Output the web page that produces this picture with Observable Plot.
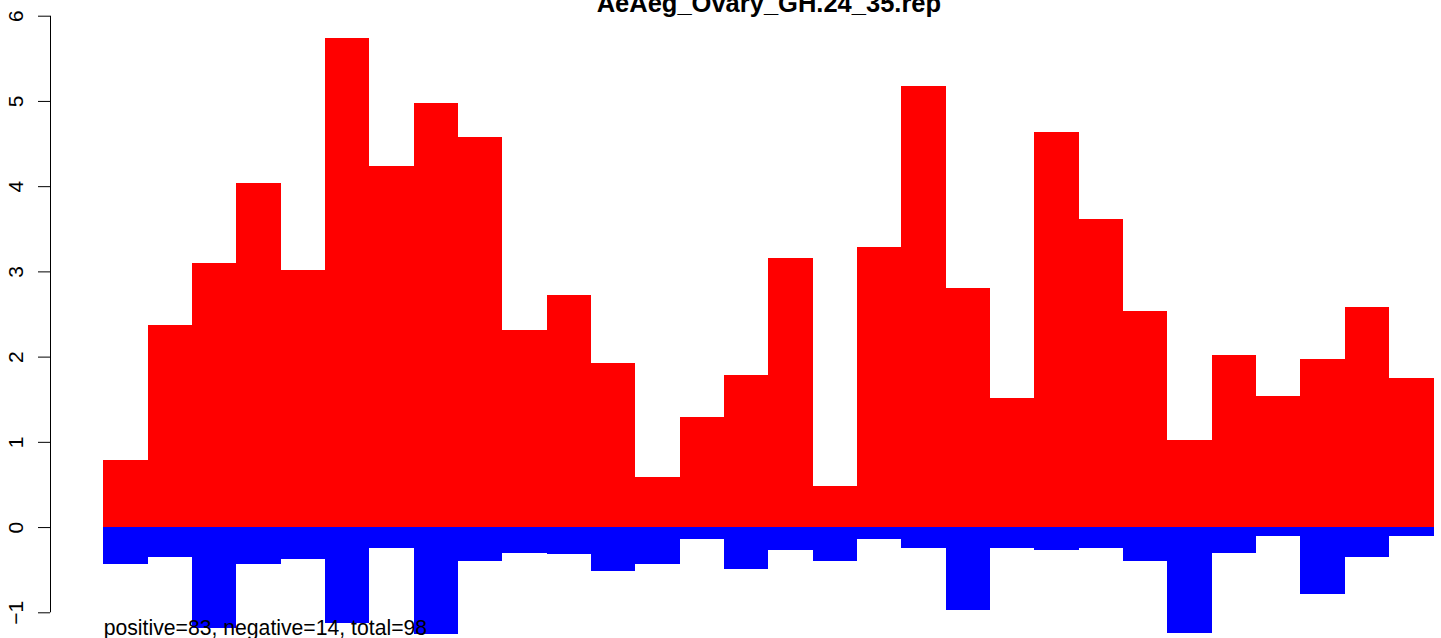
<!DOCTYPE html>
<html>
<head>
<meta charset="utf-8">
<script src="https://cdn.jsdelivr.net/npm/d3@7"></script>
<script src="https://cdn.jsdelivr.net/npm/@observablehq/plot@0.6"></script>
<style>
  html, body { margin: 0; padding: 0; background: #fff; overflow: hidden; }
  #chart svg { display: block; font-family: "Liberation Sans", Arial, Helvetica, sans-serif; }
</style>
</head>
<body>
<div id="chart"></div>
<script>
const title = "AeAeg_Ovary_GH.24_35.rep";
const summary = "positive=83, negative=14, total=98";
const bins = d3.range(1, 31);
const positive = [0.79, 2.37, 3.10, 4.04, 3.02, 5.74, 4.24, 4.97, 4.58, 2.31,
                  2.72, 1.92, 0.59, 1.29, 1.79, 3.16, 0.48, 3.29, 5.18, 2.81,
                  1.52, 4.64, 3.62, 2.54, 1.02, 2.02, 1.54, 1.97, 2.58, 1.75];
const negative = [-0.43, -0.35, -1.19, -0.43, -0.38, -1.13, -0.24, -1.26, -0.40, -0.30,
                  -0.32, -0.51, -0.43, -0.14, -0.49, -0.27, -0.40, -0.14, -0.24, -0.97,
                  -0.24, -0.27, -0.24, -0.40, -1.24, -0.30, -0.11, -0.78, -0.35, -0.11];
const yTicks = [-1, 0, 1, 2, 3, 4, 5, 6];

const n = bins.length;
const pad = 0.04 * n;
const unit = (1433 - 102.7) / n;
const left = 50;

const rows = bins.map((b, i) => ({bin: b, x1: i, x2: i + 1, pos: positive[i], neg: negative[i]}));

const plot = Plot.plot({
  width: 1441,
  height: 638,
  marginLeft: left,
  marginRight: 0,
  marginTop: 0,
  marginBottom: 0,
  style: {fontFamily: '"Liberation Sans", Arial, Helvetica, sans-serif', fontSize: "21px", background: "#fff"},
  x: {type: "linear", domain: [-pad, n + pad], range: [left, left + (n + 2 * pad) * unit], axis: null},
  y: {type: "linear", domain: [yTicks[0], yTicks[yTicks.length - 1]], range: [612.3, 15.7], axis: null},
  marks: [
    Plot.rectY(rows, {x1: "x1", x2: "x2", y1: 0, y2: "pos", fill: "#ff0000", shapeRendering: "crispEdges"}),
    Plot.rectY(rows, {x1: "x1", x2: "x2", y1: 0, y2: "neg", fill: "#0000ff", shapeRendering: "crispEdges"}),
    Plot.ruleX([-pad], {y1: yTicks[0], y2: yTicks[yTicks.length - 1], stroke: "#000", strokeWidth: 1}),
    Plot.axisY({
      ticks: yTicks,
      tickSize: 12,
      tickRotate: -90,
      tickPadding: 16,
      fontSize: 21,
      tickFormat: d => d < 0 ? "\u2212" + Math.abs(d) : String(d),
      stroke: "#000",
      fill: "#000"
    }),
    Plot.text([title], {x: [n / 2], frameAnchor: "top", text: d => d, lineAnchor: "bottom", dy: 11.5,
      fontSize: 25.5, fontWeight: "bold", fill: "#000", textAnchor: "middle"}),
    Plot.text([summary], {x: [0], frameAnchor: "bottom", text: d => d, lineAnchor: "bottom", dy: -3.5,
      fontSize: 21.2, fill: "#000", textAnchor: "start"})
  ]
});
document.getElementById("chart").appendChild(plot);
</script>
</body>
</html>
